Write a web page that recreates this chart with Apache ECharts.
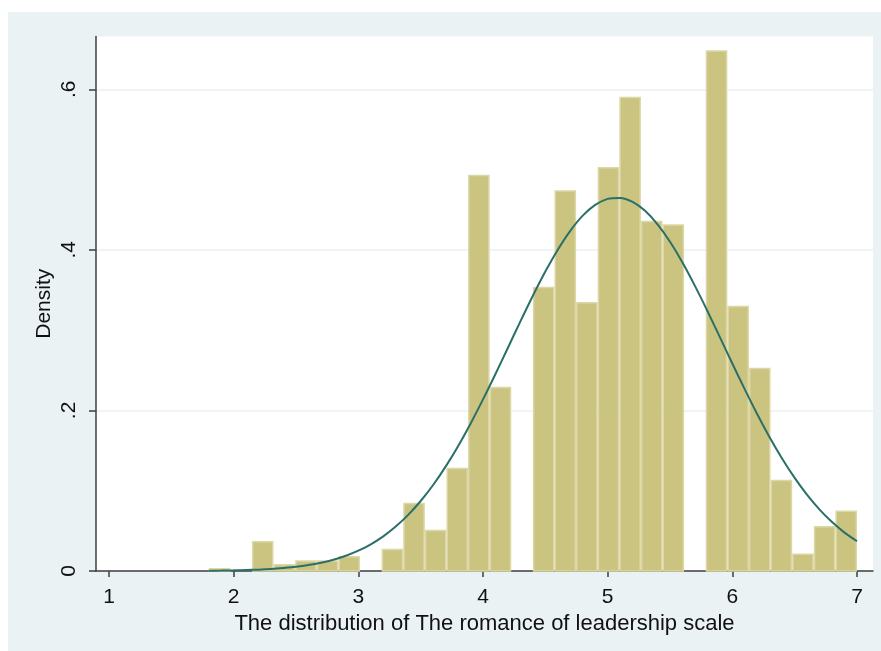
<!DOCTYPE html>
<html>
<head>
<meta charset="utf-8">
<script src="https://cdn.jsdelivr.net/npm/echarts@6/dist/echarts.min.js"></script>
<style>
  html, body { margin: 0; padding: 0; background: #ffffff; }
  #chart { width: 881px; height: 651px; }
</style>
</head>
<body>
<div id="chart"></div>
<script>
// Histogram of the romance of leadership scale (30 bins from 1.8 to 7.0)
const binStart = 1.8;
const binWidth = 5.2 / 30;
const densities = [
  0.0037, 0, 0.0373, 0.0087, 0.0133, 0.0133, 0.0187, 0, 0.0278, 0.0851,
  0.0515, 0.1286, 0.4934, 0.2295, 0, 0.3540, 0.4743, 0.3349, 0.5033, 0.5908,
  0.4363, 0.4319, 0, 0.6486, 0.3304, 0.2530, 0.1138, 0.0219, 0.0560, 0.0753
];

// Overlaid normal density curve, sampled every 0.1
const curveX = [1.8, 1.9, 2.0, 2.1, 2.2, 2.3, 2.4, 2.5, 2.6, 2.7, 2.8, 2.9, 3.0, 3.1,
  3.2, 3.3, 3.4, 3.5, 3.6, 3.7, 3.8, 3.9, 4.0, 4.1, 4.2, 4.3, 4.4, 4.5, 4.6, 4.7,
  4.8, 4.9, 5.0, 5.1, 5.2, 5.3, 5.4, 5.5, 5.6, 5.7, 5.8, 5.9, 6.0, 6.1, 6.2, 6.3,
  6.4, 6.5, 6.6, 6.7, 6.8, 6.9, 7.0];
const curveY = [0.0003, 0.0005, 0.0008, 0.0012, 0.0017, 0.0025, 0.0037, 0.0052, 0.0074,
  0.0103, 0.0140, 0.0190, 0.0253, 0.0333, 0.0432, 0.0554, 0.0699, 0.0872, 0.1071,
  0.1300, 0.1555, 0.1835, 0.2137, 0.2454, 0.2781, 0.3109, 0.3428, 0.3729, 0.4002,
  0.4237, 0.4426, 0.4560, 0.4635, 0.4647, 0.4597, 0.4486, 0.4318, 0.4101, 0.3842,
  0.3551, 0.3238, 0.2912, 0.2584, 0.2262, 0.1953, 0.1664, 0.1399, 0.1160, 0.0948,
  0.0765, 0.0609, 0.0478, 0.0371];

const xTicks = [1, 2, 3, 4, 5, 6, 7];
const yTicks = [0, 0.2, 0.4, 0.6];
const yTickText = ['0', '.2', '.4', '.6'];

const xTitle = 'The distribution of The romance of leadership scale';
const yTitle = 'Density';

const barData = densities.map((d, i) => [binStart + i * binWidth, binStart + (i + 1) * binWidth, d]);
const curveData = curveX.map((x, i) => [x, curveY[i]]);

const FONT = '"Liberation Sans", Arial, sans-serif';
const AXIS_COLOR = '#3f3f3f';
const TEXT_COLOR = '#111111';

const chart = echarts.init(document.getElementById('chart'), null, { renderer: 'canvas' });

chart.setOption({
  backgroundColor: '#ffffff',
  animation: false,
  graphic: [{
    type: 'rect',
    z: -10,
    shape: { x: 8, y: 12, width: 873, height: 639 },
    style: { fill: '#eaf2f3' },
    silent: true
  }],
  grid: {
    left: 96, right: 8, top: 36.5, bottom: 80,
    show: true, backgroundColor: '#ffffff', borderWidth: 0, z: 0
  },
  xAxis: {
    type: 'value',
    min: 0.8957,
    max: 7.1283,
    name: xTitle,
    nameLocation: 'middle',
    nameGap: 40,
    nameTextStyle: { fontFamily: FONT, fontSize: 22, color: TEXT_COLOR },
    axisLine: { show: true, onZero: false, lineStyle: { color: AXIS_COLOR, width: 1.5 } },
    axisTick: { show: true, length: 6, customValues: xTicks, lineStyle: { color: AXIS_COLOR, width: 1.5 } },
    axisLabel: {
      customValues: xTicks,
      margin: 16,
      fontFamily: FONT, fontSize: 21, color: TEXT_COLOR
    },
    splitLine: { show: false }
  },
  yAxis: {
    type: 'value',
    min: 0,
    max: 0.6657,
    interval: 0.2,
    name: yTitle,
    nameLocation: 'middle',
    nameGap: 41,
    nameMoveOverlap: false,
    nameRotate: 90,
    nameTextStyle: { fontFamily: FONT, fontSize: 21, color: TEXT_COLOR },
    axisLine: { show: true, lineStyle: { color: AXIS_COLOR, width: 1.5 } },
    axisTick: { show: true, length: 7, customValues: yTicks, lineStyle: { color: AXIS_COLOR, width: 1.5 } },
    axisLabel: {
      customValues: yTicks,
      rotate: 90,
      margin: 16,
      fontFamily: FONT, fontSize: 21, color: TEXT_COLOR,
      formatter: v => {
        const k = yTicks.findIndex(t => Math.abs(t - v) < 1e-6);
        return k >= 0 ? yTickText[k] : '';
      }
    },
    splitLine: { show: true, lineStyle: { color: '#eaf2f3', width: 1.5 } }
  },
  series: [
    {
      type: 'custom',
      data: barData,
      z: 2,
      renderItem: (params, api) => {
        const d = api.value(2);
        if (!(d > 0)) return null;
        const p0 = api.coord([api.value(0), d]);
        const p1 = api.coord([api.value(1), 0]);
        return {
          type: 'rect',
          shape: { x: p0[0] + 0.75, y: p0[1] + 0.75, width: p1[0] - p0[0] - 1.5, height: p1[1] - p0[1] - 0.75 },
          style: { fill: '#cbc480', stroke: '#dcd7a6', lineWidth: 1.5 }
        };
      }
    },
    {
      type: 'line',
      data: curveData,
      z: 3,
      smooth: 0.3,
      showSymbol: false,
      symbol: 'none',
      lineStyle: { color: '#2b6f69', width: 2 }
    }
  ]
});
</script>
</body>
</html>
